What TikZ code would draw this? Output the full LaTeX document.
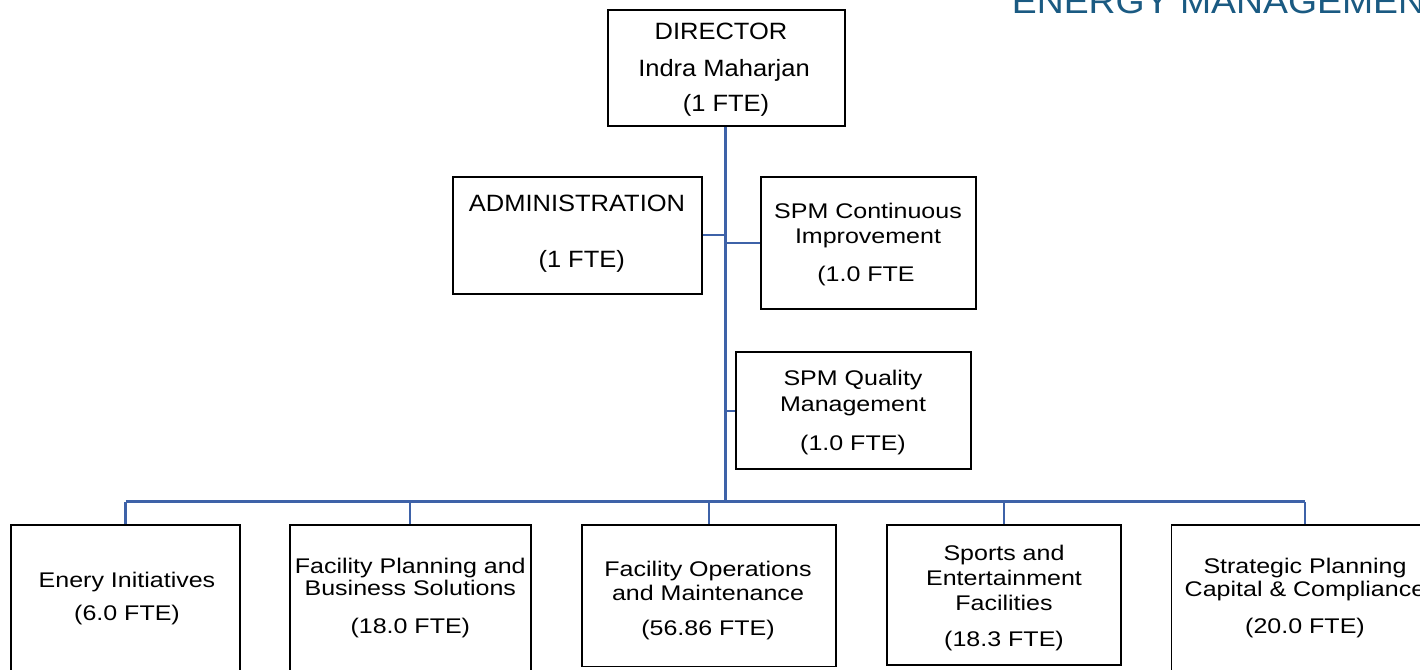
\documentclass[tikz,border=0pt]{standalone}
\usepackage{fontspec}
\setmainfont{Liberation Sans}
\newfontfamily\fontA[FakeStretch=1.08]{Liberation Sans}
\newfontfamily\fontB[FakeStretch=1.18]{Liberation Sans}
\definecolor{linkblue}{RGB}{62,98,168}
\definecolor{titleblue}{RGB}{26,90,130}
\tikzset{
  box/.style={draw=black, line width=1.8pt, rectangle, inner sep=0pt},
  tl/.style={anchor=base, inner sep=0pt},
  ta/.style={tl, font=\fontA\fontsize{23.6}{26}\selectfont},
  tb/.style={tl, font=\fontB\fontsize{21.2}{24}\selectfont},
  link/.style={draw=linkblue, line width=2.1pt}
}
\begin{document}
\begin{tikzpicture}[x=1pt,y=-1pt]
\useasboundingbox (0,0) rectangle (1420,669);
\clip (0,0) rectangle (1420,669);
\fill[white] (0,0) rectangle (1420,669);

% title
\node[anchor=base west, inner sep=0pt, text=titleblue, font=\fontA\fontsize{34.6}{40}\selectfont] (title) at (1011.7,14) {ENERGY MANAGEMENT};

% boxes
\node[box, minimum width=237pt, minimum height=116pt] (dir) at (726.5,68) {};
\node[box, minimum width=249pt, minimum height=117.3pt] (adm) at (577.2,235.3) {};
\node[box, minimum width=215.4pt, minimum height=132.6pt] (spmc) at (868.3,243) {};
\node[box, minimum width=234.7pt, minimum height=117pt] (spmq) at (853.3,410.8) {};
\node[box, minimum width=229pt, minimum height=165pt] (b1) at (125.5,607.5) {};
\node[box, minimum width=240.7pt, minimum height=165pt] (b2) at (410.3,607.5) {};
\node[box, minimum width=254pt, minimum height=141.5pt] (b3) at (709,595.75) {};
\node[box, minimum width=234pt, minimum height=140pt] (b4) at (1004,595) {};
\node[box, minimum width=267pt, minimum height=165pt] (b5) at (1305,607.5) {};

% connectors
\coordinate (bus) at (725.5,501.5);
\draw[link] (dir.south -| bus) -- (bus);
\draw[link] (adm.east) -- (adm.east -| bus);
\draw[link] (spmc.west) -- (spmc.west -| bus);
\draw[link] (spmq.west) -- (spmq.west -| bus);
\draw[link] (b1.north |- bus) -- (b5.north |- bus);
\foreach \b in {b1,b2,b3,b4,b5} { \draw[link] (\b.north) -- (\b.north |- bus); }

% texts
\node[ta] (d1) at (721,40) {DIRECTOR};
\node[ta] (d2) at (724,76) {Indra Maharjan};
\node[ta] (d3) at (726,111) {(1 FTE)};

\node[ta] (a1) at (577,211.7) {ADMINISTRATION};
\node[ta] (a2) at (581.7,267.7) {(1 FTE)};

\node[tb] (c1) at (868,218.3) {SPM Continuous};
\node[tb] (c2) at (868,243.3) {Improvement};
\node[tb] (c3) at (866,281) {(1.0 FTE};

\node[tb] (q1) at (853,385) {SPM Quality};
\node[tb] (q2) at (853,411.5) {Management};
\node[tb] (q3) at (853,450) {(1.0 FTE)};

\node[tb] (e1) at (127,587.3) {Enery Initiatives};
\node[tb] (e2) at (127,620.7) {(6.0 FTE)};

\node[tb] (p1) at (410.3,573.3) {Facility Planning and};
\node[tb] (p2) at (410.3,595.7) {Business Solutions};
\node[tb] (p3) at (410.3,633.3) {(18.0 FTE)};

\node[tb] (o1) at (708,576) {Facility Operations};
\node[tb] (o2) at (708,600) {and Maintenance};
\node[tb] (o3) at (708,635) {(56.86 FTE)};

\node[tb] (s1) at (1004,560) {Sports and};
\node[tb] (s2) at (1004,585) {Entertainment};
\node[tb] (s3) at (1004,610) {Facilities};
\node[tb] (s4) at (1004,646.7) {(18.3 FTE)};

\node[tb] (g1) at (1305,573.3) {Strategic Planning};
\node[tb] (g2) at (1305,596.7) {Capital \& Compliance};
\node[tb] (g3) at (1305,633.3) {(20.0 FTE)};
\end{tikzpicture}
\end{document}
